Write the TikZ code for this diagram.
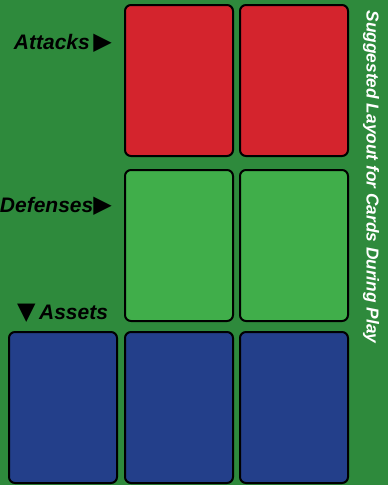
\documentclass[tikz,border=0pt]{standalone}
\usepackage{fontspec}
\setmainfont{Liberation Sans}
\newfontfamily\symfont{DejaVu Sans}
\usepackage{xcolor}
\usepackage{tikz}
\usetikzlibrary{positioning}
\definecolor{feltgreen}{RGB}{46, 138, 60}
\definecolor{atkred}{RGB}{212, 36, 45}
\definecolor{defgreen}{RGB}{64, 174, 74}
\definecolor{astblue}{RGB}{35, 63, 138}
\newcommand{\tri}[1]{{\symfont\upshape\fontsize{24}{24}\selectfont #1}}

\begin{document}
\begin{tikzpicture}[
    x=1pt, y=-1pt,
    card/.style={rectangle, draw=black, line width=2pt, rounded corners=6pt, minimum width=108pt, minimum height=151pt, inner sep=0pt},
    rowlabel/.style={font=\bfseries\itshape\fontsize{21}{21}\selectfont, text=black, inner sep=0pt}
  ]
  % table felt
  \fill[feltgreen] (0,0) rectangle (388,485);
  \useasboundingbox (0,0) rectangle (388,485);

  % attack row
  \node[card, fill=atkred] (atk1) at (179, 80.5) {};
  \node[card, fill=atkred] (atk2) at (294, 80.5) {};

  % defense row
  \node[card, fill=defgreen] (def1) at (179, 245.5) {};
  \node[card, fill=defgreen] (def2) at (294, 245.5) {};

  % asset row
  \node[card, fill=astblue] (ast1) at (63, 407.5) {};
  \node[card, fill=astblue] (ast2) at (179, 407.5) {};
  \node[card, fill=astblue] (ast3) at (294, 407.5) {};

  % row labels
  \node[rowlabel, anchor=east] (atklabel) at (112, 43) {Attacks\,\tri{▶}};
  \node[rowlabel, anchor=east] (deflabel) at (112, 206) {Defenses\tri{▶}};
  \node[rowlabel, anchor=west] (astlabel) at (17, 313) {\tri{▼}\,Assets};

  % side title
  \node[font=\bfseries\itshape\fontsize{17.3}{17.3}\selectfont, text=white, rotate=-90] (title) at (371, 177) {Suggested Layout for Cards During Play};
\end{tikzpicture}
\end{document}
